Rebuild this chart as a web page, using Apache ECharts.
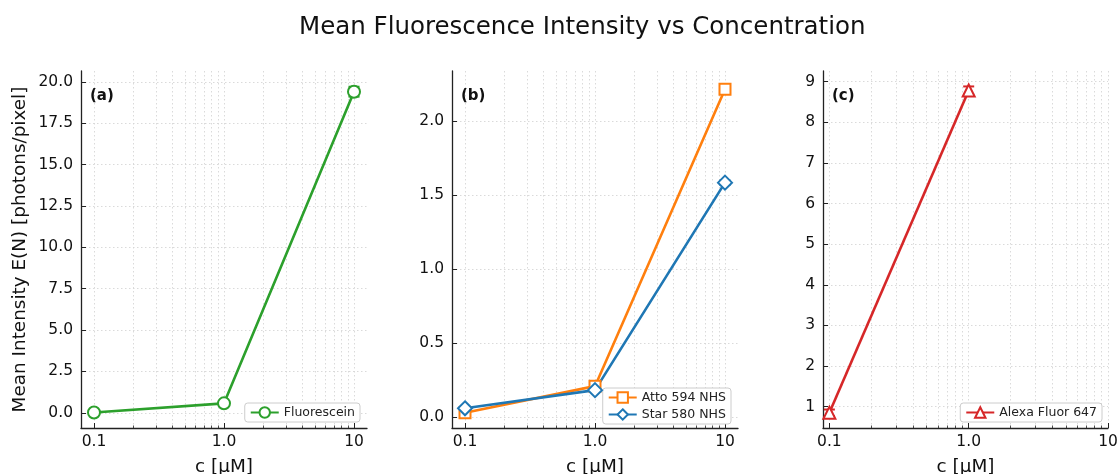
<!DOCTYPE html>
<html>
<head>
<meta charset="utf-8">
<script src="https://cdn.jsdelivr.net/npm/echarts@6/dist/echarts.min.js"></script>
<style>
html,body{margin:0;padding:0;background:#fff;}
#chart{width:1118px;height:474px;}
</style>
</head>
<body>
<div id="chart"></div>
<script>
// ---- data ----
const concentrations = [0.1, 1.0, 10];
const fluoresceinMean = [0.02, 0.57, 19.4];
const fluoresceinErr = [0.04, 0.06, 0.3];
const atto594Mean = [0.027, 0.207, 2.215];
const atto594Err = [0.004, 0.008, 0.02];
const star580Mean = [0.057, 0.18, 1.583];
const star580Err = [0.004, 0.008, 0.015];
const alexaConcentrations = [0.1, 1.0];
const alexa647Mean = [0.85, 8.78];
const alexa647Err = [0.08, 0.1];

// ---- ticks ----
const xMajorTicks = [0.1, 1, 10];
const xMinorTicks = [0.2, 0.3, 0.4, 0.5, 0.6, 0.7, 0.8, 0.9, 2, 3, 4, 5, 6, 7, 8, 9];
const yTicksA = [0, 2.5, 5, 7.5, 10, 12.5, 15, 17.5, 20];
const yTicksB = [0, 0.5, 1.0, 1.5, 2.0];
const yTicksC = [1, 2, 3, 4, 5, 6, 7, 8, 9];

const FONT = 'DejaVu Sans';
const COLORS = { green: '#2ca02c', orange: '#ff7f0e', blue: '#1f77b4', red: '#d62728' };
const GRID_LINE = { show: true, lineStyle: { color: '#d6d6d6', type: [1.5, 2.5], width: 0.9 } };

const grids = [
  { left: 81, top: 71, width: 286, height: 357, outerBoundsMode: 'none', containLabel: false },
  { left: 452, top: 71, width: 286, height: 357, outerBoundsMode: 'none', containLabel: false },
  { left: 823, top: 71, width: 285, height: 357, outerBoundsMode: 'none', containLabel: false }
];
const xRanges = [[Math.pow(10, -1.1), Math.pow(10, 1.1)], [Math.pow(10, -1.1), Math.pow(10, 1.1)], [0.09, 10]];
const yRanges = [[-0.92, 20.65], [-0.076, 2.338], [0.475, 9.26]];
const yTicks = [yTicksA, yTicksB, yTicksC];
const yFmt = [v => v.toFixed(1), v => v.toFixed(1), v => String(Math.round(v))];

const xAxes = [], yAxes = [];
grids.forEach((g, i) => {
  xAxes.push({
    type: 'log', logBase: 10, gridIndex: i, min: xRanges[i][0], max: xRanges[i][1], position: 'bottom',
    name: 'c [\u03bcM]', nameLocation: 'middle', nameGap: 30,
    nameTextStyle: { fontFamily: FONT, fontSize: 18.4, color: '#111' },
    axisLine: { show: true, onZero: false, lineStyle: { color: '#222', width: 1.3 } },
    axisTick: { show: true, inside: true, length: 5, customValues: xMajorTicks, lineStyle: { color: '#222', width: 1 } },
    axisLabel: { customValues: xMajorTicks, margin: 6, fontFamily: FONT, fontSize: 15.5, color: '#111',
      formatter: v => (Math.abs(v - 1) < 1e-9 ? '1.0' : (Math.abs(v - 10) < 1e-9 ? '10' : String(v))) },
    splitLine: GRID_LINE
  });
  xAxes.push({
    type: 'log', logBase: 10, gridIndex: i, min: xRanges[i][0], max: xRanges[i][1], position: 'bottom',
    axisLine: { show: false, onZero: false },
    axisTick: { show: true, inside: true, length: 2.5, customValues: xMinorTicks, lineStyle: { color: '#222', width: 0.8 } },
    axisLabel: { show: false },
    splitLine: GRID_LINE
  });
  yAxes.push({
    type: 'value', gridIndex: i, min: yRanges[i][0], max: yRanges[i][1],
    name: i === 0 ? 'Mean Intensity E(N) [photons/pixel]' : '',
    nameLocation: 'middle', nameGap: 52, nameRotate: 90,
    nameTextStyle: { fontFamily: FONT, fontSize: 18.4, color: '#111' },
    axisLine: { show: true, onZero: false, lineStyle: { color: '#222', width: 1.3 } },
    axisTick: { show: true, inside: true, length: 5, customValues: yTicks[i], lineStyle: { color: '#222', width: 1 } },
    axisLabel: { customValues: yTicks[i], margin: 8, fontFamily: FONT, fontSize: 15.5, color: '#111', formatter: yFmt[i] },
    splitLine: GRID_LINE
  });
});

function pairs(xs, ys) { return xs.map((x, k) => [x, ys[k]]); }
function errData(xs, ys, es) { return xs.map((x, k) => [x, ys[k] - es[k], ys[k] + es[k]]); }

function lineSeries(name, idx, xs, ys, color, symbol, size) {
  return {
    name: name, type: 'line', xAxisIndex: idx * 2, yAxisIndex: idx, data: pairs(xs, ys),
    symbol: symbol, symbolSize: size, showSymbol: true, z: 5,
    lineStyle: { color: color, width: 2.6 },
    itemStyle: { color: '#ffffff', borderColor: color, borderWidth: 2 },
    emphasis: { disabled: true }, animation: false
  };
}
function errSeries(idx, xs, ys, es, color) {
  return {
    type: 'custom', xAxisIndex: idx * 2, yAxisIndex: idx, data: errData(xs, ys, es), z: 4, silent: true, animation: false,
    renderItem: function (params, api) {
      const lo = api.coord([api.value(0), api.value(1)]);
      const hi = api.coord([api.value(0), api.value(2)]);
      const cap = 5.5;
      const st = { stroke: color, lineWidth: 2 };
      return { type: 'group', children: [
        { type: 'line', shape: { x1: lo[0], y1: lo[1], x2: hi[0], y2: hi[1] }, style: st },
        { type: 'line', shape: { x1: lo[0] - cap, y1: lo[1], x2: lo[0] + cap, y2: lo[1] }, style: st },
        { type: 'line', shape: { x1: hi[0] - cap, y1: hi[1], x2: hi[0] + cap, y2: hi[1] }, style: st }
      ] };
    }
  };
}

const series = [
  errSeries(0, concentrations, fluoresceinMean, fluoresceinErr, COLORS.green),
  lineSeries('Fluorescein', 0, concentrations, fluoresceinMean, COLORS.green, 'circle', 12),
  errSeries(1, concentrations, atto594Mean, atto594Err, COLORS.orange),
  lineSeries('Atto 594 NHS', 1, concentrations, atto594Mean, COLORS.orange, 'rect', 11),
  errSeries(1, concentrations, star580Mean, star580Err, COLORS.blue),
  lineSeries('Star 580 NHS', 1, concentrations, star580Mean, COLORS.blue, 'diamond', 14),
  errSeries(2, alexaConcentrations, alexa647Mean, alexa647Err, COLORS.red),
  lineSeries('Alexa Fluor 647', 2, alexaConcentrations, alexa647Mean, COLORS.red, 'triangle', 12)
];

function legend(names, right, bottom) {
  return {
    data: names, right: right, bottom: bottom, orient: 'vertical',
    backgroundColor: '#fff', borderColor: '#cccccc', borderWidth: 1, borderRadius: 3,
    padding: [3, 5, 3, 5], itemGap: 4, itemWidth: 28, itemHeight: 13,
    textStyle: { fontFamily: FONT, fontSize: 12.5, color: '#222' },
    selectedMode: false
  };
}

const option = {
  animation: false,
  backgroundColor: '#fff',
  title: [
    { text: 'Mean Fluorescence Intensity vs Concentration', left: 294, top: 10,
      textStyle: { fontFamily: FONT, fontSize: 24.5, fontWeight: 'normal', color: '#111' } },
    { text: '(a)', left: 90, top: 89, padding: 0, textStyle: { fontFamily: FONT, fontSize: 15, fontWeight: 'bold', color: '#111' } },
    { text: '(b)', left: 461, top: 89, padding: 0, textStyle: { fontFamily: FONT, fontSize: 15, fontWeight: 'bold', color: '#111' } },
    { text: '(c)', left: 832, top: 89, padding: 0, textStyle: { fontFamily: FONT, fontSize: 15, fontWeight: 'bold', color: '#111' } }
  ],
  grid: grids,
  xAxis: xAxes,
  yAxis: yAxes,
  legend: [
    legend(['Fluorescein'], 758, 52),
    legend(['Atto 594 NHS', 'Star 580 NHS'], 387, 50),
    legend(['Alexa Fluor 647'], 16, 52)
  ],
  series: series
};

const chart = echarts.init(document.getElementById('chart'), null, { renderer: 'canvas' });
chart.setOption(option);
</script>
</body>
</html>
